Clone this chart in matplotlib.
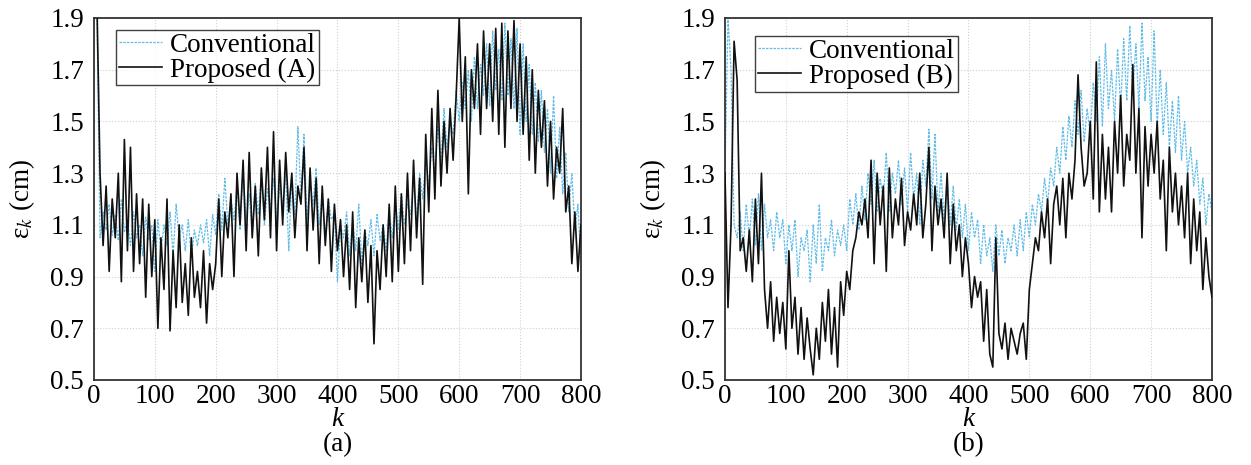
import numpy as np
import matplotlib
matplotlib.use("Agg")
import matplotlib.pyplot as plt

plt.rcParams['font.family'] = ['Liberation Serif', 'DejaVu Serif']
plt.rcParams['mathtext.fontset'] = 'stix'

# ----------------------------------
# DATA (one value every 5 steps of k)
# ----------------------------------
k_step = 5

conv_a = [
    1.95, 1.90, 1.05, 1.15, 1.08, 1.18, 1.06, 1.14, 1.04, 1.20, 1.07, 1.12, 1.02, 1.15, 1.05, 1.10, 0.98, 1.13, 1.04, 1.10,
    0.92, 1.12, 1.00, 1.10, 1.02, 1.15, 0.98, 1.18, 1.05, 1.10, 1.00, 1.12, 0.97, 1.08, 1.02, 1.10, 1.03, 1.12, 0.98, 1.14,
    1.06, 1.22, 1.08, 1.28, 1.10, 1.20, 1.12, 1.25, 1.08, 1.30, 1.12, 1.22, 1.06, 1.26, 1.14, 1.30, 1.10, 1.24, 1.16, 1.28,
    1.12, 1.25, 1.18, 1.30, 1.00, 1.28, 1.14, 1.48, 1.20, 1.45, 1.12, 1.26, 1.18, 1.32, 1.10, 1.22, 1.06, 1.20, 1.12, 1.15,
    0.88, 1.10, 1.05, 1.15, 0.98, 1.12, 1.00, 1.18, 0.95, 1.08, 1.02, 1.12, 0.98, 1.14, 1.04, 1.10, 1.00, 1.16, 1.05, 1.20,
    1.08, 1.22, 1.10, 1.18, 1.14, 1.26, 1.12, 1.30, 1.20, 1.35, 1.26, 1.40, 1.30, 1.48, 1.35, 1.55, 1.40, 1.50, 1.45, 1.62,
    1.50, 1.65, 1.55, 1.70, 1.50, 1.75, 1.55, 1.72, 1.60, 1.80, 1.56, 1.85, 1.62, 1.78, 1.58, 1.88, 1.60, 1.82, 1.55, 1.86,
    1.45, 1.80, 1.50, 1.72, 1.45, 1.65, 1.42, 1.62, 1.38, 1.55, 1.30, 1.60, 1.28, 1.48, 1.22, 1.38, 1.15, 1.30, 1.08, 1.18,
    0.95,
]

prop_a = [
    1.90, 1.95, 1.30, 1.02, 1.25, 0.92, 1.20, 1.05, 1.30, 0.88, 1.43, 1.00, 1.40, 0.92, 1.22, 0.95, 1.20, 0.82, 1.18, 0.90,
    1.12, 0.70, 1.05, 0.85, 1.20, 0.69, 1.00, 0.78, 1.10, 0.80, 0.95, 0.75, 1.05, 0.82, 0.92, 0.78, 1.00, 0.72, 0.95, 0.85,
    0.95, 1.20, 0.90, 1.15, 1.05, 1.22, 0.90, 1.30, 1.10, 1.35, 1.00, 1.38, 1.05, 1.25, 0.98, 1.32, 1.12, 1.40, 1.05, 1.46,
    1.00, 1.35, 1.10, 1.38, 1.15, 1.30, 1.05, 1.25, 1.18, 1.40, 1.00, 1.32, 1.08, 1.28, 0.95, 1.25, 1.02, 1.20, 0.92, 1.18,
    1.00, 1.12, 0.90, 1.10, 0.85, 1.15, 0.78, 1.05, 0.88, 1.08, 0.80, 1.02, 0.64, 1.00, 0.85, 1.10, 0.90, 1.18, 0.88, 1.25,
    0.92, 1.22, 0.95, 1.30, 1.00, 1.35, 1.05, 1.28, 0.87, 1.45, 1.15, 1.55, 1.20, 1.62, 1.25, 1.50, 1.30, 1.55, 1.35, 1.60,
    1.90, 1.50, 1.75, 1.22, 1.70, 1.55, 1.80, 1.45, 1.85, 1.55, 1.80, 1.50, 1.86, 1.45, 1.88, 1.40, 1.85, 1.55, 1.89, 1.50,
    1.80, 1.45, 1.75, 1.35, 1.70, 1.30, 1.62, 1.40, 1.58, 1.25, 1.50, 1.20, 1.40, 1.30, 1.55, 1.15, 1.25, 0.95, 1.15, 0.92,
    1.10,
]

conv_b = [
    1.30, 1.90, 1.70, 1.10, 1.05, 1.15, 1.00, 1.18, 1.05, 1.20, 1.02, 1.22, 1.00, 1.18, 1.05, 1.12, 1.00, 1.15, 1.05, 1.12,
    0.95, 1.10, 1.00, 1.12, 0.90, 1.05, 1.00, 1.08, 0.88, 1.10, 0.95, 1.18, 0.92, 1.05, 1.00, 1.12, 0.98, 1.08, 1.02, 1.10,
    1.00, 1.20, 1.10, 1.22, 1.08, 1.25, 1.12, 1.30, 1.18, 1.35, 1.15, 1.28, 1.20, 1.38, 1.15, 1.30, 1.22, 1.35, 1.18, 1.32,
    1.15, 1.38, 1.20, 1.30, 1.10, 1.35, 1.25, 1.47, 1.20, 1.45, 1.15, 1.30, 1.12, 1.28, 1.10, 1.25, 1.08, 1.20, 1.05, 1.18,
    1.00, 1.15, 1.05, 1.12, 0.95, 1.10, 0.98, 1.05, 0.92, 1.10, 0.98, 1.08, 0.95, 1.05, 1.00, 1.10, 0.98, 1.12, 1.00, 1.15,
    1.05, 1.18, 1.10, 1.22, 1.15, 1.28, 1.18, 1.32, 1.25, 1.40, 1.30, 1.48, 1.35, 1.52, 1.40, 1.58, 1.45, 1.62, 1.42, 1.55,
    1.45, 1.65, 1.50, 1.75, 1.48, 1.80, 1.55, 1.70, 1.50, 1.78, 1.55, 1.82, 1.58, 1.87, 1.60, 1.80, 1.55, 1.88, 1.58, 1.75,
    1.50, 1.85, 1.48, 1.70, 1.45, 1.65, 1.40, 1.58, 1.38, 1.60, 1.35, 1.50, 1.30, 1.40, 1.25, 1.35, 1.18, 1.28, 1.10, 1.22,
    1.15,
]

prop_b = [
    1.30, 0.78, 1.10, 1.81, 1.66, 1.00, 1.05, 0.92, 1.08, 0.88, 1.20, 0.95, 1.30, 0.85, 0.70, 0.88, 0.65, 0.82, 0.68, 0.80,
    0.62, 1.00, 0.70, 0.82, 0.60, 0.78, 0.58, 0.74, 0.62, 0.52, 0.70, 0.58, 0.80, 0.65, 0.85, 0.60, 0.78, 0.55, 0.88, 0.75,
    0.92, 0.85, 1.00, 1.05, 1.15, 1.10, 1.20, 1.05, 1.35, 0.95, 1.30, 1.10, 1.25, 0.92, 1.32, 1.05, 1.20, 1.10, 1.28, 1.02,
    1.15, 1.08, 1.22, 1.10, 1.30, 1.05, 1.18, 1.40, 1.00, 1.25, 1.10, 1.20, 1.05, 1.30, 0.95, 1.18, 1.00, 1.10, 0.90, 1.05,
    0.95, 0.78, 0.90, 0.82, 0.88, 0.65, 0.85, 0.60, 0.55, 1.05, 0.68, 0.62, 0.72, 0.58, 0.70, 0.65, 0.60, 0.68, 0.72, 0.58,
    0.85, 0.95, 1.05, 1.00, 1.15, 1.05, 1.20, 0.95, 1.18, 1.25, 1.10, 1.28, 1.05, 1.30, 1.20, 1.35, 1.68, 1.40, 1.25, 1.30,
    1.50, 1.20, 1.73, 1.15, 1.45, 1.20, 1.40, 1.15, 1.50, 1.30, 1.60, 1.25, 1.45, 1.35, 1.72, 1.30, 1.55, 1.05, 1.48, 1.25,
    1.45, 1.30, 1.50, 1.20, 1.35, 1.00, 1.40, 1.15, 1.30, 1.10, 1.25, 1.05, 1.30, 0.95, 1.20, 1.00, 1.15, 0.85, 1.05, 0.90,
    0.82,
]

legend_labels_a = ["Conventional", "Proposed (A)"]
legend_labels_b = ["Conventional", "Proposed (B)"]
panel_tags = ["(a)", "(b)"]

conv_color = "#62bde6"

# ----------------------------------
# FIGURE
# ----------------------------------
fig = plt.figure(figsize=(12.51, 4.65), dpi=100)
ax_a = fig.add_axes([0.0751, 0.1828, 0.3893, 0.7785])
ax_b = fig.add_axes([0.5795, 0.1828, 0.3893, 0.7785])

panels = [
    (ax_a, conv_a, prop_a, legend_labels_a, panel_tags[0], (0.045, 0.967)),
    (ax_b, conv_b, prop_b, legend_labels_b, panel_tags[1], (0.062, 0.95)),
]

fs = 19.5

for ax, conv, prop, labels, tag, leg_pos in panels:
    k = np.arange(len(conv)) * k_step
    ax.plot(k, conv, color=conv_color, lw=0.9, dashes=(2, 1), label=labels[0], zorder=2)
    ax.plot(k, prop, color="#111111", lw=1.2, label=labels[1], zorder=3)

    ax.set_xlim(0, 800)
    ax.set_ylim(0.5, 1.9)
    ax.set_xticks(np.arange(0, 801, 100))
    ax.set_yticks(np.arange(0.5, 1.91, 0.2))
    ax.set_yticklabels(["%.1f" % v for v in np.arange(0.5, 1.91, 0.2)])
    ax.tick_params(length=0, labelsize=fs)
    ax.tick_params(axis="x", pad=3)
    ax.tick_params(axis="y", pad=7)
    ax.grid(True, color="#d0d0d0", linestyle=":", linewidth=0.8)
    for s in ax.spines.values():
        s.set_color("#333333")
        s.set_linewidth(1.3)

    ax.set_xlabel("k", fontsize=fs, style="italic", va="center")
    ax.xaxis.set_label_coords(0.5, -0.11)
    ax.set_ylabel("ε$_k$ (cm)", fontsize=fs)
    ax.yaxis.set_label_coords(-0.117, 0.5)

    leg = ax.legend(loc="upper left", bbox_to_anchor=leg_pos, fontsize=fs,
                    frameon=True, fancybox=False, edgecolor="#111111",
                    handlelength=1.6, handletextpad=0.3, labelspacing=0.0,
                    borderpad=0.1, borderaxespad=0.0)
    leg.get_frame().set_linewidth(1.0)

    pos = ax.get_position()
    fig.text(pos.x0 + pos.width / 2, 1 - 445 / 465, tag, ha="center", va="center", fontsize=fs)

plt.savefig("out.png", dpi=100)
